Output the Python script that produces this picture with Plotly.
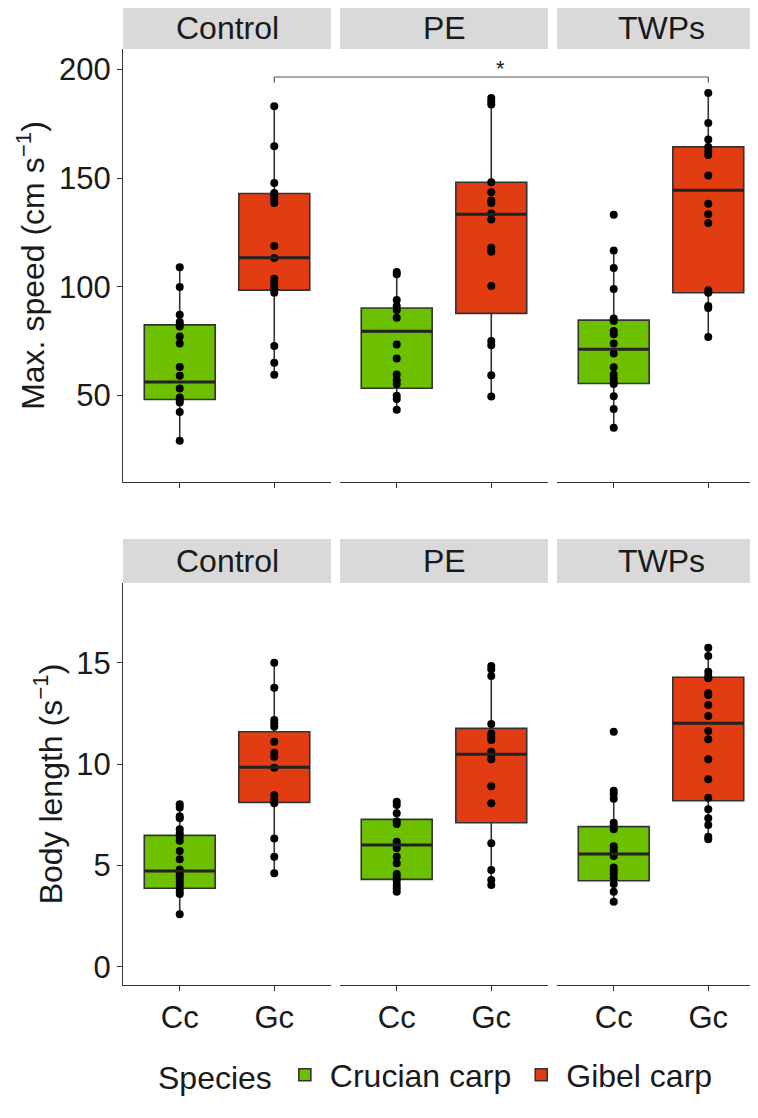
import plotly.graph_objects as go

# page body has an 8px margin: the figure is sized and laid out to compensate
OFF = 8
FW, FH = 750, 1095

treatments = ["Control", "PE", "TWPs"]
species_codes = ["Cc", "Gc"]
species_names = ["Crucian carp", "Gibel carp"]
species_colors = ["#6CC000", "#E23C12"]

speed_title = "Max. speed (cm s<sup>\u22121</sup>)"
bl_title = "Body length (s<sup>\u22121</sup>)"
speed_ticks = [50, 100, 150, 200]
bl_ticks = [0, 5, 10, 15]

# ---- Max. speed (cm s^-1): points ----
speed_pts = {
    ("Control", "Cc"): [109.0, 99.8, 87.1, 83.7, 82.5, 81.6, 77.0, 73.8, 63.0, 58.9, 53.1, 48.9, 47.8, 46.6, 42.3, 29.0],
    ("Control", "Gc"): [183.1, 164.7, 147.8, 143.2, 141.7, 140.5, 138.6, 118.7, 113.2, 103.7, 102.1, 100.3, 98.8, 97.2, 72.7, 65.0, 59.4],
    ("PE", "Cc"): [106.7, 105.7, 93.9, 91.1, 89.2, 85.7, 73.3, 66.9, 59.5, 57.0, 55.1, 49.7, 48.2, 43.3],
    ("PE", "Gc"): [186.9, 185.4, 183.9, 148.1, 143.5, 139.7, 138.6, 133.7, 131.0, 117.9, 116.1, 100.3, 75.0, 73.0, 59.2, 49.4],
    ("TWPs", "Cc"): [133.1, 116.7, 108.6, 98.9, 85.3, 84.2, 79.6, 78.1, 73.8, 69.2, 62.9, 59.5, 57.4, 55.8, 55.1, 49.5, 43.6, 35.0],
    ("TWPs", "Gc"): [189.2, 175.4, 167.8, 164.4, 162.4, 160.7, 151.2, 138.2, 133.4, 129.3, 98.4, 97.2, 91.1, 90.2, 76.8],
}
# box stats: lower whisker, q1, median, q3, upper whisker
speed_box = {
    ("Control", "Cc"): [29.0, 48.0, 56.1, 82.4, 109.0],
    ("Control", "Gc"): [59.4, 98.4, 113.3, 142.9, 183.1],
    ("PE", "Cc"): [43.3, 53.2, 79.4, 90.2, 106.7],
    ("PE", "Gc"): [49.4, 87.7, 133.4, 148.1, 186.9],
    ("TWPs", "Cc"): [35.0, 55.4, 71.2, 84.6, 116.7],
    ("TWPs", "Gc"): [76.8, 97.2, 144.4, 164.4, 189.2],
}

# ---- Body length (s^-1): points ----
bl_pts = {
    ("Control", "Cc"): [8.01, 7.85, 7.43, 7.32, 6.78, 6.58, 6.41, 6.22, 5.71, 5.30, 4.80, 4.67, 4.51, 4.36, 4.19, 4.03, 3.87, 3.70, 3.59, 2.59],
    ("Control", "Gc"): [15.0, 13.76, 12.17, 12.01, 11.84, 11.10, 10.56, 10.36, 9.82, 8.46, 8.26, 8.06, 6.33, 5.43, 4.61],
    ("PE", "Cc"): [8.14, 7.98, 7.57, 7.16, 7.04, 6.17, 6.00, 5.84, 5.43, 5.10, 4.57, 4.41, 4.24, 4.03, 3.87, 3.70],
    ("PE", "Gc"): [14.83, 14.67, 14.34, 11.97, 11.51, 11.35, 11.18, 10.61, 10.44, 10.23, 8.91, 8.06, 6.09, 4.77, 4.28, 4.03],
    ("TWPs", "Cc"): [11.59, 8.68, 8.52, 8.29, 7.10, 6.94, 6.78, 5.95, 5.79, 5.62, 5.46, 4.90, 4.74, 4.57, 4.36, 4.08, 3.70, 3.21],
    ("TWPs", "Gc"): [15.74, 15.33, 14.55, 14.34, 14.23, 13.49, 13.40, 12.91, 12.37, 11.63, 11.22, 10.23, 9.25, 8.34, 7.77, 7.32, 6.99, 6.41, 6.29],
}
bl_box = {
    ("Control", "Cc"): [2.59, 3.87, 4.72, 6.48, 8.01],
    ("Control", "Gc"): [4.61, 8.11, 9.84, 11.59, 15.0],
    ("PE", "Cc"): [3.70, 4.31, 6.00, 7.27, 8.14],
    ("PE", "Gc"): [4.03, 7.10, 10.48, 11.76, 14.83],
    ("TWPs", "Cc"): [3.21, 4.24, 5.56, 6.91, 8.68],
    ("TWPs", "Gc"): [6.29, 8.19, 12.01, 14.28, 15.74],
}

# significance bracket (Control Gc vs TWPs Gc)
sig_label = "*"
sig_y = 196.6
sig_tip = 194.1

# ---------------- layout geometry (reference pixels) ----------------
panel_x = [(123, 331), (340, 548), (557, 758)]
unit_px = 208 / 2.2
row_y = [(49, 482), (583, 985)]
strip_y = [(7, 49), (539, 583)]
yranges = [[10, 209.5], [-0.9, 18.93]]
BOX_W = 0.75

FONT = "Liberation Sans, Arial, sans-serif"
TXT = "#1A1A1A"
AX = "#333333"
FS_TICK = 31
FS_TEXT = 32

def px_x(p):
    return (p - OFF) / FW

def px_y(p):
    return 1 - (p - OFF) / FH

fig = go.Figure()
layout = dict(
    width=FW, height=FH,
    margin=dict(l=0, r=0, t=0, b=0),
    paper_bgcolor="white", plot_bgcolor="white",
    boxmode="overlay",
    font=dict(family=FONT, size=FS_TEXT, color=TXT),
    showlegend=True,
)

shapes = []
annotations = []

datasets = [(speed_pts, speed_box), (bl_pts, bl_box)]
for r in range(2):
    pts, box = datasets[r]
    for c, tr in enumerate(treatments):
        k = r * 3 + c + 1
        xa = "x" if k == 1 else f"x{k}"
        ya = "y" if k == 1 else f"y{k}"
        xkey = "xaxis" if k == 1 else f"xaxis{k}"
        ykey = "yaxis" if k == 1 else f"yaxis{k}"
        x0, x1 = panel_x[c]
        span = (x1 - x0) / unit_px
        layout[xkey] = dict(
            domain=[px_x(x0), min(1.0, px_x(x1))], anchor=ya, type="category",
            categoryorder="array", categoryarray=species_codes,
            range=[-0.6, -0.6 + span], showline=True, linecolor=AX, linewidth=1.2,
            ticks="outside", ticklen=5, tickwidth=1.1, tickcolor=AX,
            showticklabels=(r == 1), tickfont=dict(size=FS_TICK, color=TXT),
            showgrid=False, zeroline=False, fixedrange=True, automargin=False,
        )
        ydict = dict(
            domain=[px_y(row_y[r][1]), px_y(row_y[r][0])], anchor=xa,
            range=yranges[r], showgrid=False, zeroline=False, automargin=False,
            fixedrange=True,
        )
        if c == 0:
            ydict.update(
                showline=True, linecolor=AX, linewidth=1.2, ticks="outside",
                ticklen=5, tickwidth=1.1, tickcolor=AX,
                tickvals=speed_ticks if r == 0 else bl_ticks,
                tickfont=dict(size=FS_TICK, color=TXT),
                title=dict(text=speed_title if r == 0 else bl_title,
                           font=dict(size=FS_TEXT, color=TXT), standoff=4),
            )
        else:
            ydict.update(showline=False, showticklabels=False, ticks="")
        layout[ykey] = ydict

        for s, code in enumerate(species_codes):
            lw, q1, med, q3, uw = box[(tr, code)]
            fig.add_trace(go.Box(
                x=[code], q1=[q1], median=[med], q3=[q3],
                lowerfence=[lw], upperfence=[uw],
                xaxis=xa, yaxis=ya, width=BOX_W, whiskerwidth=0,
                fillcolor=species_colors[s],
                line=dict(color=AX, width=1.6),
                boxpoints=False, name=species_names[s],
                legendgroup=species_names[s],
                showlegend=(k == 1), hoverinfo="skip",
            ))
            # thicker median bar, as in ggplot
            idx = species_codes.index(code)
            shapes.append(dict(type="line", xref=xa, yref=ya,
                               x0=idx - BOX_W / 2, x1=idx + BOX_W / 2,
                               y0=med, y1=med, line=dict(color="#222222", width=3)))
            vals = pts[(tr, code)]
            fig.add_trace(go.Scatter(
                x=[code] * len(vals), y=vals, mode="markers",
                marker=dict(color="black", size=8),
                xaxis=xa, yaxis=ya, showlegend=False, hoverinfo="skip",
            ))

        # strip
        sy0, sy1 = strip_y[r]
        shapes.append(dict(type="rect", xref="paper", yref="paper",
                           x0=px_x(x0), x1=min(1.0, px_x(x1)), y0=px_y(sy1), y1=px_y(sy0),
                           fillcolor="#D9D9D9", line=dict(width=0), layer="below"))
        annotations.append(dict(text=tr, xref="paper", yref="paper",
                                x=px_x(x0 + 104),
                                y=px_y((sy0 + sy1) / 2),
                                showarrow=False, xanchor="center", yanchor="middle",
                                font=dict(size=FS_TEXT, color=TXT)))

# significance bracket computed from category positions
def cat_paper(c, code):
    x0, x1 = panel_x[c]
    idx = species_codes.index(code)
    return px_x(x0 + (idx + 0.6) * unit_px)

bx0 = cat_paper(0, "Gc")
bx1 = cat_paper(2, "Gc")
for xx in (bx0, bx1):
    shapes.append(dict(type="line", xref="paper", yref="y", x0=xx, x1=xx,
                       y0=sig_tip, y1=sig_y, line=dict(color="#555555", width=1.2)))
shapes.append(dict(type="line", xref="paper", yref="y", x0=bx0, x1=bx1,
                   y0=sig_y, y1=sig_y, line=dict(color="#555555", width=1.2)))
annotations.append(dict(text=sig_label, xref="paper", yref="y",
                        x=(bx0 + bx1) / 2 + 0.012, y=sig_y, yanchor="bottom",
                        showarrow=False, font=dict(size=22, color=TXT), yshift=-6))

layout["shapes"] = shapes
layout["annotations"] = annotations
layout["legend"] = dict(
    orientation="h", x=px_x(156), xanchor="left", y=px_y(1075), yanchor="middle",
    title=dict(text="Species", font=dict(size=FS_TEXT, color=TXT), side="left"),
    font=dict(size=FS_TEXT, color=TXT), itemwidth=40, bgcolor="rgba(0,0,0,0)",
)
fig.update_layout(**layout)
fig.write_html("out.html")
